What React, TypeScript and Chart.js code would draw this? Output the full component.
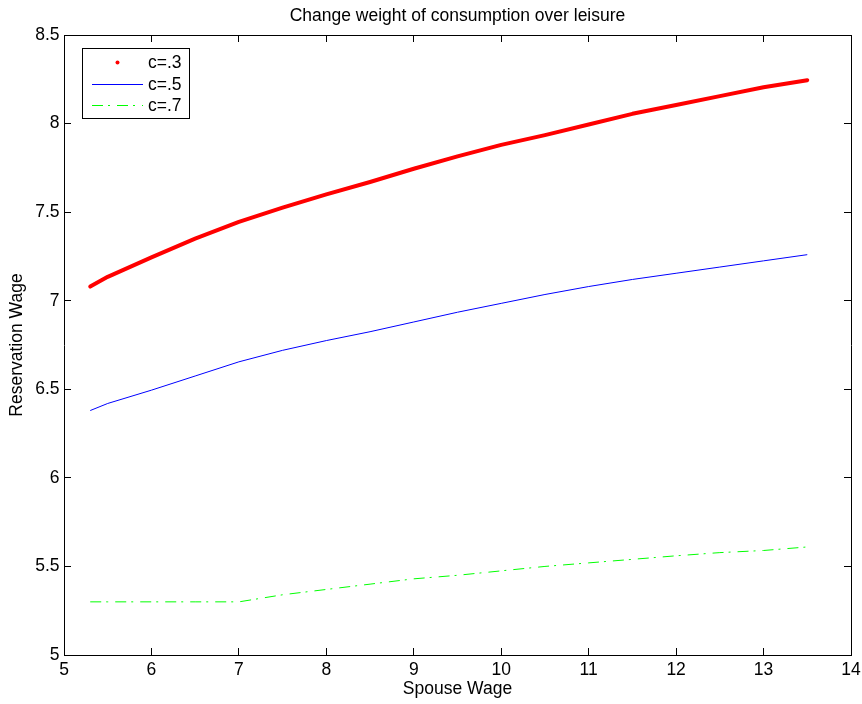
import React, { useEffect, useRef } from "react";
import { Chart, registerables } from "chart.js";

Chart.register(...registerables);

// ---- data ----
const spouseWage = [5.3, 5.5, 6, 6.5, 7, 7.5, 8, 8.5, 9, 9.5, 10, 10.5, 11, 11.5, 12, 12.5, 13, 13.5];
const resWageC3 = [7.08, 7.135, 7.245, 7.35, 7.445, 7.525, 7.6, 7.67, 7.745, 7.815, 7.88, 7.935, 7.995, 8.055, 8.105, 8.155, 8.205, 8.245];
const resWageC5 = [6.38, 6.42, 6.495, 6.575, 6.655, 6.72, 6.775, 6.825, 6.88, 6.935, 6.985, 7.035, 7.08, 7.12, 7.155, 7.19, 7.225, 7.26];
const spouseWageC7 = [5.3, 5.5, 6, 6.5, 7, 7.25, 7.5, 7.75, 8, 8.5, 9, 9.5, 10, 10.5, 11, 11.5, 12, 12.5, 13, 13.5];
const resWageC7 = [5.3, 5.3, 5.3, 5.3, 5.3, 5.32, 5.34, 5.355, 5.37, 5.4, 5.43, 5.45, 5.475, 5.5, 5.52, 5.54, 5.56, 5.578, 5.59, 5.61];
const seriesLabels = ["c=.3", "c=.5", "c=.7"];
const xTickValues = [5, 6, 7, 8, 9, 10, 11, 12, 13, 14];
const yTickValues = [5, 5.5, 6, 6.5, 7, 7.5, 8, 8.5];
const chartTitle = "Change weight of consumption over leisure";
const xAxisTitle = "Spouse Wage";
const yAxisTitle = "Reservation Wage";

const FONT = '"Liberation Sans", Arial, Helvetica, sans-serif';
const FS = 17.5;

const boxLegend = {
  id: "boxLegend",
  afterDraw(chart: any) {
    const ctx = chart.ctx as CanvasRenderingContext2D;
    const ca = chart.chartArea;
    const x0 = Math.round(ca.left) + 18;
    const y0 = Math.round(ca.top) + 13;
    const w = 107;
    const h = 70;
    ctx.save();
    ctx.fillStyle = "#ffffff";
    ctx.fillRect(x0, y0, w, h);
    ctx.strokeStyle = "#000000";
    ctx.lineWidth = 1;
    ctx.setLineDash([]);
    ctx.strokeRect(x0 + 0.5, y0 + 0.5, w, h);
    chart.data.datasets.forEach((ds: any, i: number) => {
      const cy = y0 + 14 + i * 21.7;
      if (ds.legendMarker === "dot") {
        ctx.fillStyle = ds.borderColor;
        ctx.beginPath();
        ctx.arc(x0 + 35.5, Math.round(cy) + 0.5, 2, 0, Math.PI * 2);
        ctx.fill();
      } else {
        ctx.strokeStyle = ds.borderColor;
        ctx.lineWidth = ds.borderWidth;
        ctx.setLineDash(ds.borderDash || []);
        ctx.beginPath();
        ctx.moveTo(x0 + 10, Math.round(cy) + 0.5);
        ctx.lineTo(x0 + 61, Math.round(cy) + 0.5);
        ctx.stroke();
        ctx.setLineDash([]);
      }
      ctx.fillStyle = "#000000";
      ctx.font = `${FS}px ${FONT}`;
      ctx.textAlign = "left";
      ctx.textBaseline = "middle";
      ctx.fillText(ds.label, x0 + 66, cy + 1);
    });
    ctx.restore();
  },
};

export default function App() {
  const canvasRef = useRef<HTMLCanvasElement | null>(null);

  useEffect(() => {
    const canvas = canvasRef.current;
    if (!canvas) return;

    const tickFont = { family: FONT, size: FS, weight: "normal" as const };
    const setXTicks = (s: any) => {
      s.ticks = xTickValues.map((v) => ({ value: v }));
    };
    const setYTicks = (s: any) => {
      s.ticks = yTickValues.map((v) => ({ value: v }));
    };
    const gridOpts = {
      drawOnChartArea: false,
      drawTicks: true,
      tickLength: -7,
      color: "#000000",
      lineWidth: 1,
    };
    const borderOpts = { display: true, color: "#000000", width: 1 };

    const chart = new Chart(canvas, {
      type: "line",
      data: {
        datasets: [
          {
            label: seriesLabels[0],
            data: spouseWage.map((x, i) => ({ x, y: resWageC3[i] })),
            borderColor: "#ff0000",
            backgroundColor: "#ff0000",
            borderWidth: 4,
            borderCapStyle: "round",
            borderJoinStyle: "round",
            pointRadius: 0,
            tension: 0,
            xAxisID: "x",
            yAxisID: "y",
            legendMarker: "dot",
          } as any,
          {
            label: seriesLabels[1],
            data: spouseWage.map((x, i) => ({ x, y: resWageC5[i] })),
            borderColor: "#0000ff",
            backgroundColor: "#0000ff",
            borderWidth: 1,
            pointRadius: 0,
            tension: 0,
            xAxisID: "x",
            yAxisID: "y",
          },
          {
            label: seriesLabels[2],
            data: spouseWageC7.map((x, i) => ({ x, y: resWageC7[i] })),
            borderColor: "#00ff00",
            backgroundColor: "#00ff00",
            borderWidth: 1,
            borderDash: [11, 5, 2, 7],
            pointRadius: 0,
            tension: 0,
            xAxisID: "x",
            yAxisID: "y",
          },
        ],
      },
      options: {
        animation: false,
        responsive: false,
        devicePixelRatio: 1,
        layout: { padding: { left: 0, right: 11, top: 0, bottom: 0 } },
        plugins: {
          legend: { display: false },
          tooltip: { enabled: false },
          title: {
            display: true,
            fullSize: false,
            text: chartTitle,
            color: "#000000",
            font: tickFont,
            padding: { top: 5.5, bottom: 8.5 },
          },
        },
        scales: {
          x: {
            type: "linear",
            position: "bottom",
            min: 5,
            max: 14,
            afterBuildTicks: setXTicks,
            afterFit: (s: any) => {
              s.height = 49;
              s.paddingLeft = 0;
              s.paddingRight = 0;
            },
            ticks: {
              color: "#000000",
              font: tickFont,
              padding: 11.5,
              maxRotation: 0,
              autoSkip: false,
              callback: (v: any) => String(v),
            },
            grid: gridOpts,
            border: borderOpts,
            title: {
              display: true,
              text: xAxisTitle,
              color: "#000000",
              font: tickFont,
              padding: { top: 0, bottom: 4.5 },
            },
          },
          x2: {
            type: "linear",
            position: "top",
            min: 5,
            max: 14,
            afterBuildTicks: setXTicks,
            afterFit: (s: any) => {
              s.height = 0;
              s.paddingLeft = 0;
              s.paddingRight = 0;
            },
            ticks: { display: false },
            grid: gridOpts,
            border: borderOpts,
          },
          y: {
            type: "linear",
            position: "left",
            min: 5,
            max: 8.5,
            afterBuildTicks: setYTicks,
            afterFit: (s: any) => {
              s.width = 64;
              s.paddingTop = 0;
              s.paddingBottom = 0;
            },
            ticks: {
              color: "#000000",
              font: tickFont,
              padding: 11.5,
              autoSkip: false,
              callback: (v: any) => String(v),
            },
            grid: gridOpts,
            border: borderOpts,
            title: {
              display: true,
              text: yAxisTitle,
              color: "#000000",
              font: tickFont,
              padding: { top: 7, bottom: 0 },
            },
          },
          y2: {
            type: "linear",
            position: "right",
            min: 5,
            max: 8.5,
            afterBuildTicks: setYTicks,
            afterFit: (s: any) => {
              s.width = 0;
              s.paddingTop = 0;
              s.paddingBottom = 0;
            },
            ticks: { display: false },
            grid: gridOpts,
            border: borderOpts,
          },
        },
      } as any,
      plugins: [boxLegend],
    });

    return () => {
      chart.destroy();
    };
  }, []);

  return (
    <div style={{ position: "absolute", left: 0, top: 0, width: 862, height: 704, background: "#ffffff" }}>
      <canvas ref={canvasRef} width={862} height={704} style={{ display: "block" }} />
    </div>
  );
}
